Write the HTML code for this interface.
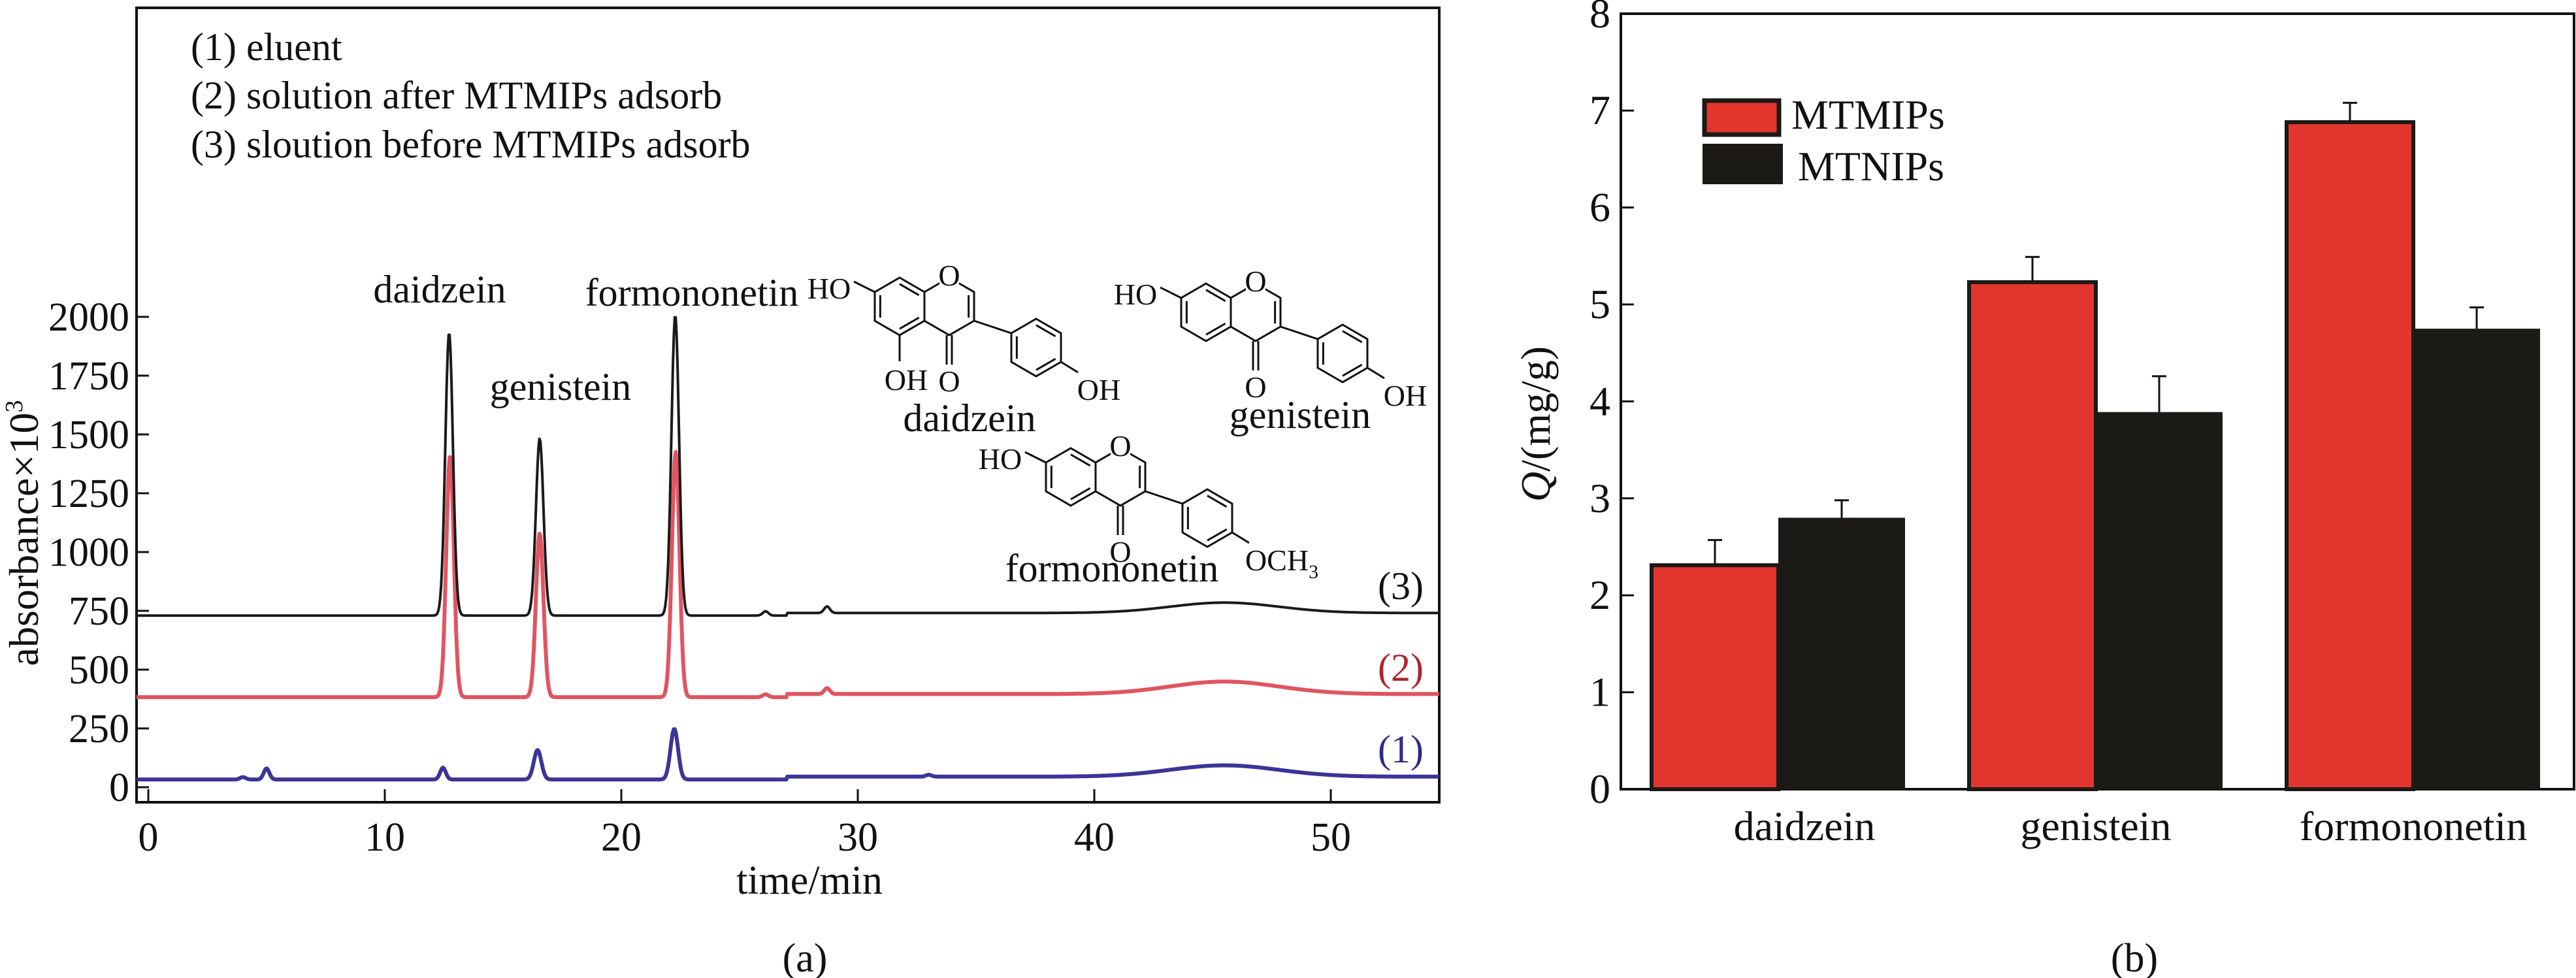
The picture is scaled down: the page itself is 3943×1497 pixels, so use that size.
<!DOCTYPE html>
<html><head><meta charset="utf-8">
<style>
html,body{margin:0;padding:0;background:#fff;}
svg{display:block;}
svg text{font-family:"Liberation Serif","DejaVu Serif",serif;fill:#111;}
</style></head>
<body>
<svg id="fig" width="3943" height="1497" viewBox="0 0 3943 1497" xmlns="http://www.w3.org/2000/svg" font-family="'Liberation Serif', 'DejaVu Serif', serif">
  <g id="chartA"></g>
  <g id="chartB"></g>
</svg>
<script>
// ---------- Chart (a) data ----------
const xTicksA = [0, 10, 20, 30, 40, 50];
const yTicksA = [0, 250, 500, 750, 1000, 1250, 1500, 1750, 2000];
// series (3) solution before adsorb - black
const base3 = 730;
const peakT3 = [12.72, 16.55, 22.28, 26.1, 28.7];
const peakH3 = [1203, 753, 1278, 18, 28];
const hump3 = 44;
// series (2) solution after adsorb - red
const base2 = 383;
const peakT2 = [12.76, 16.55, 22.3, 26.1, 28.7];
const peakH2 = [1028, 697, 1042, 12, 25];
const hump2 = 53;
// series (1) eluent - blue
const base1 = 33;
const peakT1 = [4.0, 5.0, 12.46, 16.46, 22.24, 33.0];
const peakH1 = [10, 47, 50, 125, 215, 8];
const hump1 = 48;

// ---------- Chart (b) data ----------
const categoriesB = ["daidzein", "genistein", "formononetin"];
const mtmips = [2.31, 5.23, 6.88];
const mtmipsErr = [0.26, 0.26, 0.2];
const mtnips = [2.8, 3.89, 4.75];
const mtnipsErr = [0.18, 0.37, 0.22];
const yTicksB = [0, 1, 2, 3, 4, 5, 6, 7, 8];

const NS = "http://www.w3.org/2000/svg";
const FF = "'Liberation Serif', 'DejaVu Serif', serif";
function mk(tag, attrs, parent, txt) {
  const e = document.createElementNS(NS, tag);
  for (const k in attrs) e.setAttribute(k, attrs[k]);
  if (tag === 'text') e.setAttribute('font-family', FF);
  if (txt !== undefined) e.textContent = txt;
  parent.appendChild(e);
  return e;
}

// ===== Chart A =====
const A = document.getElementById('chartA');
const ax = t => 227 + t * 36.2;
const ay = v => 1205 - v * 0.36;
const frameA = mk('rect', {x: 209, y: 12, width: 1994, height: 1216, fill: 'none', stroke: '#111', 'stroke-width': 4}, A);


xTicksA.forEach(t => {
  const l = mk('line', {x1: ax(t), x2: ax(t), y1: 1228, y2: 1208, stroke: '#111', 'stroke-width': 3}, A);
  
  
  const tx = mk('text', {x: ax(t), y: 1302, 'text-anchor': 'middle', 'font-size': 62}, A, String(t));
  
  
});
yTicksA.forEach(v => {
  const l = mk('line', {x1: 209, x2: 228, y1: ay(v), y2: ay(v), stroke: '#111', 'stroke-width': 3}, A);
  
  
  const tx = mk('text', {x: 198, y: ay(v) + 21, 'text-anchor': 'end', 'font-size': 62}, A, String(v));
  
  
});
function trace(base, ts, hs, hump, color, width, name) {
  let d = '';
  for (let t = -0.5; t <= 54.6; t += 0.04) {
    let v = base + hump * Math.exp(-Math.pow((t - 45.5) / 2.3, 2) / 2);
    if (t > 27) v += hump * 0.25;
    for (let i = 0; i < ts.length; i++) {
      const s = hs[i] > 100 ? 0.16 : 0.12;
      v += hs[i] * Math.exp(-Math.pow((t - ts[i]) / s, 2) / 2);
    }
    d += (d ? 'L' : 'M') + ax(t).toFixed(1) + ',' + ay(v).toFixed(1);
  }
  const p = mk('path', {d: d, fill: 'none', stroke: color, 'stroke-width': width, 'stroke-linejoin': 'round'}, A);
  
  
}
trace(base1, peakT1, peakH1, hump1, '#3b3598', 6, 'eluent-trace');
trace(base2, peakT2, peakH2, hump2, '#e05560', 6, 'after-adsorb-trace');
trace(base3, peakT3, peakH3, hump3, '#1a1a1a', 4, 'before-adsorb-trace');

function txt(parent, x, y, s, size, name, extra) {
  const a = Object.assign({x: x, y: y, 'font-size': size}, extra || {});
  const e = mk('text', a, parent, s);
  
  
  return e;
}
txt(A, 292, 92, '(1) eluent', 60, 'legend-entry-1');
txt(A, 292, 166, '(2) solution after MTMIPs adsorb', 60, 'legend-entry-2');
txt(A, 292, 241, '(3) sloution before MTMIPs adsorb', 60, 'legend-entry-3');
txt(A, 673, 463, 'daidzein', 60, 'peak-label-daidzein', {'text-anchor': 'middle'});
txt(A, 858, 612, 'genistein', 60, 'peak-label-genistein', {'text-anchor': 'middle'});
txt(A, 1059, 468, 'formononetin', 60, 'peak-label-formononetin', {'text-anchor': 'middle'});
txt(A, 2144, 917, '(3)', 60, 'series-label-3', {'text-anchor': 'middle'});
txt(A, 2144, 1042, '(2)', 60, 'series-label-2', {'text-anchor': 'middle', style: 'fill:#b0242c'});
txt(A, 2144, 1167, '(1)', 60, 'series-label-1', {'text-anchor': 'middle', style: 'fill:#2e2a86'});
txt(A, 1239, 1368, 'time/min', 62, 'x-axis-title', {'text-anchor': 'middle'});
const yl = txt(A, 0, 0, 'absorbance\u00d710', 64, 'y-axis-title', {'text-anchor': 'middle', transform: 'translate(58,816) rotate(-90)'});
const sup = mk('tspan', {'font-size': 38, dy: -24}, yl, '3');


txt(A, 1232, 1487, '(a)', 62, 'panel-label-a', {'text-anchor': 'middle'});

// Structures
function structure(ox, oy, name, opts) {
  const g = mk('g', {transform: 'translate(' + ox + ',' + oy + ')', stroke: '#111', 'stroke-width': 3, fill: 'none'}, A);
  
  
  const r = 44, h = 38;
  const hex = (cx, cy) => [[cx, cy - r], [cx + h, cy - r / 2], [cx + h, cy + r / 2], [cx, cy + r], [cx - h, cy + r / 2], [cx - h, cy - r / 2]];
  const A1 = hex(0, 0), B1 = hex(2 * h, 0), C1 = hex(209, 63);
  const poly = pts => mk('polygon', {points: pts.map(p => p.join(',')).join(' ')}, g);
  poly(A1);
  poly(B1);
  poly(C1);
  const inner = (p, q, c) => {
    const k = 0.78;
    mk('line', {x1: c[0] + (p[0] - c[0]) * k, y1: c[1] + (p[1] - c[1]) * k, x2: c[0] + (q[0] - c[0]) * k, y2: c[1] + (q[1] - c[1]) * k}, g);
  };
  inner(A1[0], A1[1], [0, 0]); inner(A1[2], A1[3], [0, 0]); inner(A1[4], A1[5], [0, 0]);
  inner(B1[1], B1[2], [2 * h, 0]);
  inner(C1[0], C1[1], [209, 63]); inner(C1[2], C1[3], [209, 63]); inner(C1[4], C1[5], [209, 63]);
  mk('line', {x1: B1[2][0], y1: B1[2][1], x2: C1[5][0], y2: C1[5][1]}, g);
  mk('line', {x1: B1[3][0] - 4, y1: B1[3][1], x2: B1[3][0] - 4, y2: B1[3][1] + 45}, g);
  mk('line', {x1: B1[3][0] + 4, y1: B1[3][1], x2: B1[3][0] + 4, y2: B1[3][1] + 45}, g);
  mk('line', {x1: A1[5][0], y1: A1[5][1], x2: A1[5][0] - 32, y2: A1[5][1] - 16}, g);
  mk('line', {x1: C1[2][0], y1: C1[2][1], x2: C1[2][0] + 26, y2: C1[2][1] + 16}, g);
  mk('rect', {x: B1[0][0] - 15, y: B1[0][1] - 22, width: 30, height: 36, fill: '#fff', stroke: 'none'}, g);
  const t = (x, y, s, sz) => mk('text', {x: x, y: y, 'font-size': sz || 46, 'text-anchor': 'middle', stroke: 'none', style: 'fill:#111'}, g, s);
  t(B1[0][0], B1[0][1] + 12, 'O');
  t(B1[3][0], B1[3][1] + 86, 'O');
  t(-108, -12, 'HO');
  if (opts.oh5) {
    mk('line', {x1: A1[3][0], y1: A1[3][1], x2: A1[3][0], y2: A1[3][1] + 40}, g);
    t(A1[3][0] + 10, A1[3][1] + 84, 'OH');
  }
  if (opts.och3) {
    const e = t(C1[2][0] + 76, C1[2][1] + 58, 'OCH');
    mk('tspan', {'font-size': 30, dy: 12}, e, '3');
  } else {
    t(C1[2][0] + 58, C1[2][1] + 58, 'OH');
  }
}
structure(1377, 469, 'daidzein-structure', {oh5: true});
structure(1846, 478, 'genistein-structure', {});
structure(1639, 730, 'formononetin-structure', {och3: true});
txt(A, 1484, 660, 'daidzein', 60, 'structure-label-daidzein', {'text-anchor': 'middle'});
txt(A, 1990, 655, 'genistein', 60, 'structure-label-genistein', {'text-anchor': 'middle'});
txt(A, 1702, 890, 'formononetin', 60, 'structure-label-formononetin', {'text-anchor': 'middle'});

// ===== Chart B =====
const B = document.getElementById('chartB');
const by = v => 1208 - v * 148.4;
const groupX = i => 2528 + i * 486;
const barW = 194;
const frameB = mk('rect', {x: 2481, y: 21, width: 1459, height: 1187, fill: 'none', stroke: '#111', 'stroke-width': 4}, B);


yTicksB.forEach(v => {
  const l = mk('line', {x1: 2481, x2: 2501, y1: by(v), y2: by(v), stroke: '#111', 'stroke-width': 3}, B);
  
  
  txt(B, 2465, by(v) + 21, String(v), 64, 'y-tick-label-b', {'text-anchor': 'end'});
});
categoriesB.forEach((c, i) => {
  const x0 = groupX(i);
  const r = mk('rect', {x: x0, y: by(mtmips[i]), width: barW, height: by(0) - by(mtmips[i]), fill: '#e2352d', stroke: '#1c1a17', 'stroke-width': 6}, B);
  
  
  const k = mk('rect', {x: x0 + barW, y: by(mtnips[i]), width: barW, height: by(0) - by(mtnips[i]), fill: '#1c1a17'}, B);
  
  
  [[x0 + barW / 2, mtmips[i], mtmipsErr[i], 'mtmips'], [x0 + barW * 1.5, mtnips[i], mtnipsErr[i], 'mtnips']].forEach(e => {
    const eg = mk('path', {d: 'M' + e[0] + ',' + by(e[1]) + 'V' + by(e[1] + e[2]) + 'M' + (e[0] - 11) + ',' + by(e[1] + e[2]) + 'H' + (e[0] + 11), stroke: '#111', 'stroke-width': 3, fill: 'none'}, B);
    
    
  });
  txt(B, x0 + barW + (i === 0 ? 40 : 0), 1286, c, 64, 'x-tick-label-b', {'text-anchor': 'middle'});
});
const lg1 = mk('rect', {x: 2609, y: 154, width: 114, height: 52, fill: '#e2352d', stroke: '#1c1a17', 'stroke-width': 7}, B);


const lg2 = mk('rect', {x: 2606, y: 220, width: 123, height: 62, fill: '#1c1a17'}, B);


txt(B, 2742, 197, 'MTMIPs', 64, 'legend-label-mtmips');
txt(B, 2752, 276, 'MTNIPs', 64, 'legend-label-mtnips');
const ylb = txt(B, 0, 0, '', 64, 'y-axis-title-b', {'text-anchor': 'middle', transform: 'translate(2372,649) rotate(-90)'});
const q = mk('tspan', {'font-style': 'italic'}, ylb, 'Q');


const qu = mk('tspan', {}, ylb, '/(mg/g)');


txt(B, 3267, 1487, '(b)', 62, 'panel-label-b', {'text-anchor': 'middle'});
</script>
</body></html>
